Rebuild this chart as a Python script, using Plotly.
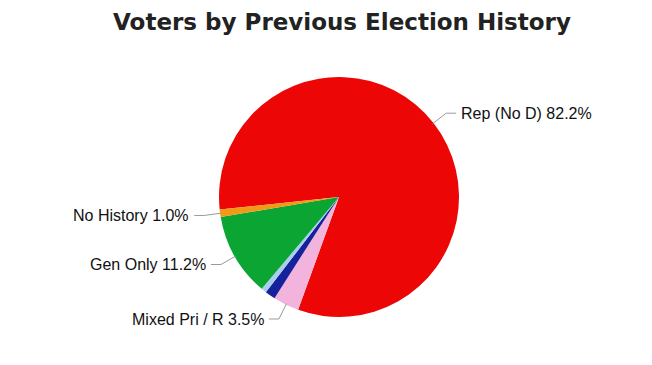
import math
import plotly.graph_objects as go

# ---- data (clockwise order as drawn) ----
categories = ["Rep (No D)", "Mixed Pri / R", "Dem (No R)", "Mixed Pri / D", "Gen Only", "No History"]
shares = [82.2, 3.5, 1.4, 0.7, 11.2, 1.0]
colors = ["#ec0606", "#f2b3dd", "#15229b", "#a8cff2", "#0ba533", "#f29a16"]
labelled = ["Rep (No D)", "Mixed Pri / R", "Gen Only", "No History"]

W, H = 652, 365
OFF = 8  # page body offset
CX, CY, R = 339, 197, 120
START = 264  # degrees clockwise from 12 o'clock

def px(x, y):
    return (x - OFF) / W, 1 - (y - OFF) / H

dx0, dy1 = px(CX - R, CY + R)
dx1, dy0 = px(CX + R, CY - R)

fig = go.Figure(go.Pie(
    labels=categories, values=shares, sort=False, direction="clockwise",
    rotation=START, textinfo="none", hoverinfo="label+percent",
    marker=dict(colors=colors, line=dict(width=0)),
    domain=dict(x=[dx0, dx1], y=[dy1, dy0]),
    showlegend=False,
))

total = sum(shares)
acc = 0.0
shapes, annotations = [], []
for name, v in zip(categories, shares):
    mid = START + (acc + v / 2) / total * 360
    acc += v
    if name not in labelled:
        continue
    a = math.radians(mid)
    dx, dy = math.sin(a), -math.cos(a)
    ex, ey = CX + (R - 1) * dx, CY + (R - 1) * dy
    bx, by = CX + (R + 16) * dx, CY + (R + 16) * dy
    side = 1 if dx >= 0 else -1
    hx = bx + side * 10
    tx = hx + side * 3
    p = [px(ex, ey), px(bx, by), px(hx, by)]
    path = "M {} {} L {} {} L {} {}".format(p[0][0], p[0][1], p[1][0], p[1][1], p[2][0], p[2][1])
    shapes.append(dict(type="path", xref="paper", yref="paper", path=path,
                       line=dict(color="#9a9a9a", width=1)))
    ax, ay = px(tx, by)
    annotations.append(dict(x=ax, y=ay, xref="paper", yref="paper", showarrow=False,
                            text=f"{name} {v:.1f}%", xanchor="left" if side > 0 else "right",
                            yanchor="middle", font=dict(family="Liberation Sans, Arial", size=16, color="#111")))

tx_, ty_ = px(342, 22)
fig.update_layout(
    width=W, height=H, margin=dict(l=0, r=0, t=0, b=0),
    paper_bgcolor="white", plot_bgcolor="white",
    shapes=shapes, annotations=annotations,
    title=dict(text="<b>Voters by Previous Election History</b>", x=tx_, xanchor="center",
               y=ty_, yanchor="middle", yref="container",
               font=dict(family="DejaVu Sans", size=23, color="#222")),
)

fig.write_html("out.html")
